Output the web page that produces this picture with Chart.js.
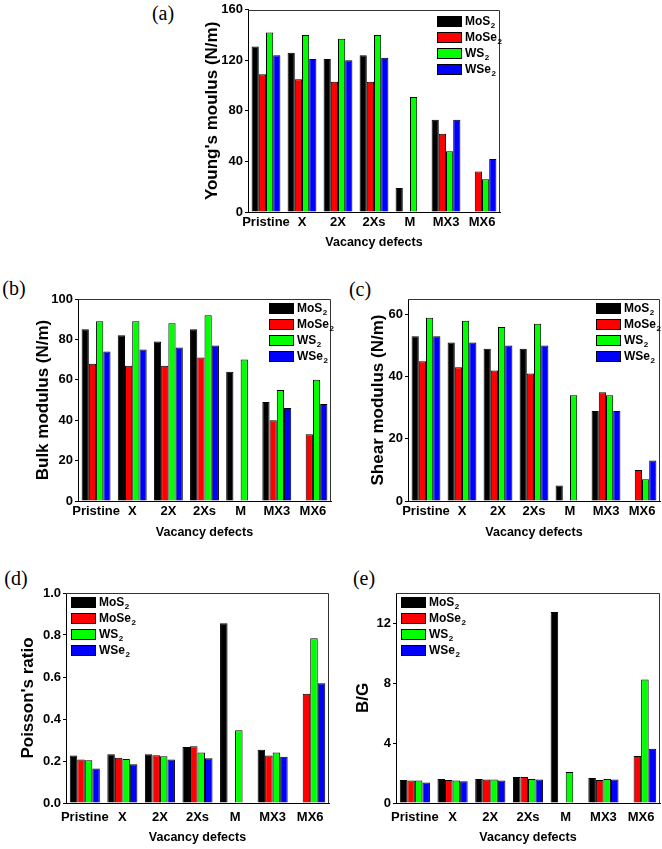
<!DOCTYPE html>
<html><head><meta charset="utf-8">
<script src="https://cdn.jsdelivr.net/npm/chart.js@4/dist/chart.umd.min.js"></script>
<style>
body{margin:0;background:#fff;width:662px;height:849px;position:relative;overflow:hidden}
canvas{position:absolute}
.lbl{position:absolute;font-family:'Liberation Serif','Times New Roman',serif;font-size:20px;transform:translate(-50%,-50%);color:#000;line-height:1;white-space:nowrap}
</style></head><body>
<div class="lbl" style="left:163px;top:13px">(a)</div>
<div class="lbl" style="left:14px;top:288px">(b)</div>
<div class="lbl" style="left:360px;top:289px">(c)</div>
<div class="lbl" style="left:16px;top:578px">(d)</div>
<div class="lbl" style="left:364px;top:578px">(e)</div>
<canvas id="ca"></canvas><canvas id="cb"></canvas><canvas id="cc"></canvas><canvas id="cd"></canvas><canvas id="ce"></canvas>
<script>
const categories = ['Pristine','X','2X','2Xs','M','MX3','MX6'];
const materials = ['MoS₂','MoSe₂','WS₂','WSe₂'];
const colors = ['#000000','#ff0000','#00ff00','#0000ff'];

const youngMoS2  = [131,126,121,124,19,73,null];
const youngMoSe2 = [109,105,103,103,null,62,32];
const youngWS2   = [142,140,137,140,91,48,26];
const youngWSe2  = [124,121,120,122,null,73,42];

const bulkMoS2  = [85,82,79,85,64,49,null];
const bulkMoSe2 = [68,67,67,71,null,40,33];
const bulkWS2   = [89,89,88,92,70,55,60];
const bulkWSe2  = [74,75,76,77,null,46,48];

const shearMoS2  = [53,51,49,49,5,29,null];
const shearMoSe2 = [45,43,42,41,null,35,10];
const shearWS2   = [59,58,56,57,34,34,7];
const shearWSe2  = [53,51,50,50,null,29,13];

const poissonMoS2  = [0.226,0.232,0.232,0.267,0.856,0.254,null];
const poissonMoSe2 = [0.207,0.216,0.227,0.270,null,0.226,0.520];
const poissonWS2   = [0.204,0.210,0.223,0.240,0.346,0.240,0.785];
const poissonWSe2  = [0.164,0.185,0.207,0.213,null,0.220,0.570];

const bgMoS2  = [1.54,1.60,1.60,1.74,12.73,1.67,null];
const bgMoSe2 = [1.50,1.54,1.56,1.74,null,1.54,3.13];
const bgWS2   = [1.50,1.50,1.56,1.60,2.07,1.60,8.24];
const bgWSe2  = [1.37,1.45,1.50,1.56,null,1.56,3.61];

const FONT = '"Liberation Sans", Arial, sans-serif';

const framePlugin = {
  id: 'frame',
  afterDraw(chart) {
    const {ctx, chartArea: a} = chart;
    ctx.save();
    ctx.strokeStyle = '#333'; ctx.lineWidth = 1;
    ctx.beginPath();
    ctx.moveTo(a.left, Math.round(a.top) + 0.5);
    ctx.lineTo(Math.round(a.right) - 0.5, Math.round(a.top) + 0.5);
    ctx.lineTo(Math.round(a.right) - 0.5, a.bottom);
    ctx.stroke();
    ctx.restore();
  }
};

const legendPlugin = {
  id: 'insideLegend',
  afterDraw(chart, args, opts) {
    const {ctx, chartArea: a} = chart;
    const x0 = Math.round(opts.side === 'right' ? a.right - opts.dx : a.left + opts.dx);
    let y = Math.round(a.top + opts.dy);
    ctx.save();
    chart.data.datasets.forEach(ds => {
      ctx.fillStyle = ds.backgroundColor;
      ctx.fillRect(x0, y, 25, 11);
      ctx.strokeStyle = '#000'; ctx.lineWidth = 1;
      ctx.strokeRect(x0 + 0.5, y + 0.5, 24, 10);
      const base = ds.label.replace(/[\u2080-\u2089]/g, '');
      const sub = ds.label.replace(/[^\u2080-\u2089]/g, '').replace(/./g, c => String.fromCharCode(c.charCodeAt(0) - 0x2080 + 48));
      const tx = x0 + 28, cy = y + 5.5;
      ctx.fillStyle = '#000';
      ctx.textBaseline = 'middle'; ctx.textAlign = 'left';
      ctx.font = 'bold 12px ' + FONT;
      ctx.fillText(base, tx, cy);
      const w = ctx.measureText(base).width;
      ctx.font = 'bold 8px ' + FONT;
      ctx.fillText(sub, tx + w + 0.5, cy + 4);
      y += 16;
    });
    ctx.restore();
  }
};

function makeChart(id, p, series) {
  const cv = document.getElementById(id);
  cv.width = p.w; cv.height = p.h;
  cv.style.left = p.left + 'px'; cv.style.top = p.top + 'px';
  cv.style.width = p.w + 'px'; cv.style.height = p.h + 'px';
  return new Chart(cv, {
    type: 'bar',
    data: {
      labels: categories,
      datasets: series.map((d, i) => ({
        label: materials[i], data: d,
        backgroundColor: colors[i], borderColor: '#000', borderWidth: 1,
        categoryPercentage: 0.8, barPercentage: 1.0
      }))
    },
    options: {
      responsive: false, animation: false, devicePixelRatio: 1,
      layout: {padding: {top: p.padTop, right: p.padRight, left: 0, bottom: 0}},
      plugins: {legend: {display: false}, tooltip: {enabled: false},
        insideLegend: p.legend},
      scales: {
        x: {
          grid: {display: false, drawTicks: false, tickLength: 0},
          border: {display: true, color: '#000', width: 1},
          ticks: {color: '#000', font: {family: FONT, weight: 'bold', size: 13}, padding: p.xPad, maxRotation: 0, autoSkip: false},
          title: {display: true, text: 'Vacancy defects', color: '#000', font: {family: FONT, weight: 'bold', size: 12.5, lineHeight: 1}, padding: 0},
          afterFit: s => { s.height = p.hx; }
        },
        y: {
          min: 0, max: p.max,
          grid: {display: true, drawOnChartArea: false, drawTicks: true, tickLength: 3, color: '#000'},
          border: {display: true, color: '#000', width: 1},
          ticks: {stepSize: p.step, includeBounds: false, color: '#000', padding: 2,
            font: {family: FONT, weight: 'bold', size: 13},
            callback: v => p.dec ? Number(v).toFixed(p.dec) : String(Math.round(v))},
          title: {display: true, text: p.yTitle, color: '#000', font: {family: FONT, weight: 'bold', size: 17, lineHeight: 1}, padding: 0},
          afterFit: s => { s.width = p.wy; }
        }
      }
    },
    plugins: [framePlugin, legendPlugin]
  });
}

makeChart('ca', {left:204, top:0, w:300, h:249, wy:44, hx:37, padTop:9, padRight:4, xPad:3,
  yTitle:"Young's moulus (N/m)", max:160, step:40, dec:0, legend:{side:'right', dx:63, dy:6}},
  [youngMoS2, youngMoSe2, youngWS2, youngWSe2]);
makeChart('cb', {left:35, top:289, w:300, h:250, wy:43, hx:38, padTop:10, padRight:4, xPad:3,
  yTitle:'Bulk modulus (N/m)', max:100, step:20, dec:0, legend:{side:'right', dx:62, dy:4}},
  [bulkMoS2, bulkMoSe2, bulkWS2, bulkWSe2]);
makeChart('cc', {left:370, top:289, w:292, h:250, wy:38, hx:38, padTop:10, padRight:2, xPad:3,
  yTitle:'Shear modulus (N/m)', max:65, step:20, dec:0, legend:{side:'right', dx:64, dy:4}},
  [shearMoS2, shearMoSe2, shearWS2, shearWSe2]);
makeChart('cd', {left:20, top:583, w:313, h:261, wy:46, hx:41, padTop:10, padRight:4, xPad:7,
  yTitle:"Poisson's ratio", max:1.0, step:0.2, dec:1, legend:{side:'left', dx:5, dy:4}},
  [poissonMoS2, poissonMoSe2, poissonWS2, poissonWSe2]);
makeChart('ce', {left:355, top:583, w:307, h:261, wy:41, hx:41, padTop:10, padRight:2, xPad:7,
  yTitle:'B/G', max:14, step:4, dec:0, legend:{side:'left', dx:5, dy:4}},
  [bgMoS2, bgMoSe2, bgWS2, bgWSe2]);
</script>
</body></html>
